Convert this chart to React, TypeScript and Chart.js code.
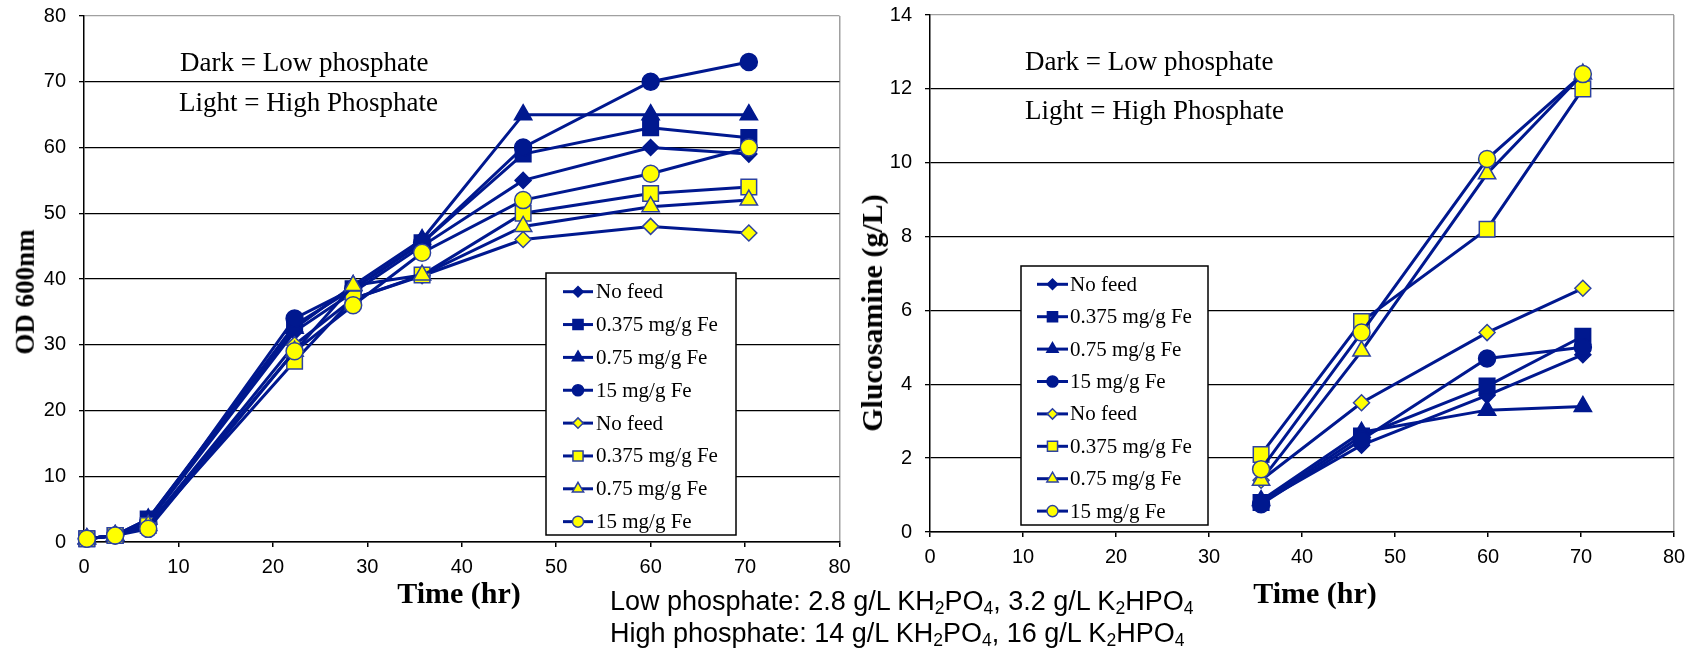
import React, { useEffect, useRef } from 'react';
import { Chart, registerables } from 'chart.js';
import { drawPoint } from 'chart.js/helpers';

Chart.register(...registerables);

// ---------- DATA ----------
const seriesLabels = [
  'No feed', '0.375 mg/g Fe', '0.75 mg/g Fe', '15 mg/g Fe',
  'No feed', '0.375 mg/g Fe', '0.75 mg/g Fe', '15 mg/g Fe',
];

// Left chart: OD 600nm vs time (hr)
const odTimes = [0.3, 3.3, 6.8, 22.3, 28.5, 35.8, 46.5, 60, 70.4];
const odDarkNoFeed = [0.5, 1, 3, 32, 38, 45, 55, 60, 59];
const odDark0375 = [0.5, 1, 3.5, 33, 38.5, 45.5, 59, 63, 61.5];
const odDark075 = [0.5, 1, 3.5, 32.5, 39, 46, 65, 65, 65];
const odDark15 = [0.5, 1, 3, 34, 38.5, 45.5, 60, 70, 73];
const odLightNoFeed = [0.5, 1, 2.5, 30, 37, 40.5, 46, 48, 47];
const odLight0375 = [0.5, 1, 2.5, 27.5, 37, 40.6, 50, 53, 54];
const odLight075 = [0.5, 1, 2.5, 29, 39, 40.6, 48, 51, 52];
const odLight15 = [0.5, 1, 2, 29, 36, 44, 52, 56, 60];

// Right chart: Glucosamine (g/L) vs time (hr)
const glcTimes = [35.6, 46.4, 59.9, 70.2];
const glcDarkNoFeed = [0.8, 2.35, 3.7, 4.8];
const glcDark0375 = [0.8, 2.6, 3.95, 5.3];
const glcDark075 = [0.85, 2.7, 3.3, 3.4];
const glcDark15 = [0.75, 2.5, 4.7, 5.0];
const glcLightNoFeed = [1.4, 3.5, 5.4, 6.6];
const glcLight0375 = [2.1, 5.7, 8.2, 12.0];
const glcLight075 = [1.4, 4.9, 9.7, 12.4];
const glcLight15 = [1.7, 5.4, 10.1, 12.4];

const xTickStep = 10;
const xMax = 80;
const odTickStep = 10;
const odMax = 80;
const glcTickStep = 2;
const glcMax = 14;

// ---------- STYLE ----------
const NAVY = '#00188f';
const YELLOW = '#ffff00';
const LIGHT_BORDER = '#2d42a0';
const pointStyles = ['rectRot', 'rect', 'triangle', 'circle'];
const pointRadii = [8, 11, 10, 8.5];

function buildDatasets(xs: number[], series: number[][]) {
  return series.map((vals, i) => {
    const dark = i < 4;
    const k = i % 4;
    return {
      label: seriesLabels[i],
      data: xs.map((x, j) => ({ x, y: vals[j] })),
      borderColor: NAVY,
      backgroundColor: dark ? NAVY : YELLOW,
      borderWidth: 3,
      pointStyle: pointStyles[k],
      pointRadius: pointRadii[k],
      pointBackgroundColor: dark ? NAVY : YELLOW,
      pointBorderColor: dark ? NAVY : LIGHT_BORDER,
      pointBorderWidth: 1.5,
      order: 7 - i,
      tension: 0,
      clip: false as any,
    };
  });
}

const insideLegend = {
  id: 'insideLegend',
  afterDraw(chart: any, _args: any, opts: any) {
    const { ctx } = chart;
    ctx.save();
    ctx.fillStyle = '#ffffff';
    ctx.fillRect(opts.x, opts.y, opts.w, opts.h);
    ctx.strokeStyle = '#000';
    ctx.lineWidth = 1.5;
    ctx.strokeRect(opts.x, opts.y, opts.w, opts.h);
    chart.data.datasets.forEach((ds: any, i: number) => {
      const cy = opts.firstY + i * opts.rowH;
      ctx.strokeStyle = ds.borderColor;
      ctx.lineWidth = 3;
      ctx.beginPath();
      ctx.moveTo(opts.lineX0, cy);
      ctx.lineTo(opts.lineX1, cy);
      ctx.stroke();
      ctx.fillStyle = ds.pointBackgroundColor;
      ctx.strokeStyle = ds.pointBorderColor;
      ctx.lineWidth = ds.pointBorderWidth;
      drawPoint(ctx, { pointStyle: ds.pointStyle, rotation: 0, radius: ds.pointRadius * 0.65, borderWidth: ds.pointBorderWidth }, (opts.lineX0 + opts.lineX1) / 2, cy);
      ctx.fillStyle = '#000';
      ctx.font = opts.font;
      ctx.textBaseline = 'middle';
      ctx.textAlign = 'left';
      ctx.fillText(ds.label, opts.textX, cy + 1);
    });
    ctx.restore();
  },
};

const tickFont = { family: '"Liberation Sans", Arial, sans-serif', size: 20 };

function makeOptions(cfg: {
  yMax: number; yStep: number; yWidth: number; xHeight: number;
  padRight: number; padTop: number; legend: any;
}) {
  return {
    responsive: false,
    animation: false as const,
    layout: { padding: { left: 0, right: cfg.padRight, top: cfg.padTop, bottom: 0 } },
    plugins: {
      legend: { display: false },
      tooltip: { enabled: false },
      insideLegend: cfg.legend,
    },
    scales: {
      x: {
        type: 'linear' as const,
        min: 0,
        max: xMax,
        ticks: { stepSize: xTickStep, font: tickFont, color: '#000', padding: 8, autoSkip: false },
        grid: {
          drawOnChartArea: true,
          color: (c: any) => (c.tick && c.tick.value === xMax ? '#a0a0a0' : 'rgba(0,0,0,0)'),
          tickColor: '#000',
          tickLength: 5,
          lineWidth: 1.5,
        },
        border: { display: true, color: '#000', width: 1.5 },
        afterFit: (s: any) => { s.height = cfg.xHeight; s.paddingLeft = 0; s.paddingRight = 0; },
      },
      y: {
        min: 0,
        max: cfg.yMax,
        ticks: { stepSize: cfg.yStep, font: tickFont, color: '#000', padding: 13 },
        grid: {
          color: (c: any) => (c.tick && c.tick.value === cfg.yMax ? '#a0a0a0' : '#000'),
          tickColor: '#000',
          tickLength: 5,
          lineWidth: 1.3,
        },
        border: { display: true, color: '#000', width: 1.5 },
        afterFit: (s: any) => { s.width = cfg.yWidth; s.paddingTop = 0; s.paddingBottom = 0; },
      },
    },
  };
}

const legendFont = '21px "Liberation Serif", "Times New Roman", serif';

export default function App() {
  const leftRef = useRef<HTMLCanvasElement>(null);
  const rightRef = useRef<HTMLCanvasElement>(null);

  useEffect(() => {
    const left = new Chart(leftRef.current!, {
      type: 'line',
      data: {
        datasets: buildDatasets(odTimes, [
          odDarkNoFeed, odDark0375, odDark075, odDark15,
          odLightNoFeed, odLight0375, odLight075, odLight15,
        ]) as any,
      },
      options: makeOptions({
        yMax: odMax, yStep: odTickStep, yWidth: 84, xHeight: 78, padRight: 12, padTop: 16,
        legend: { x: 546, y: 273, w: 190, h: 262, firstY: 291.7, rowH: 32.85, lineX0: 563, lineX1: 593, textX: 596, font: legendFont },
      }) as any,
      plugins: [insideLegend],
    });
    const right = new Chart(rightRef.current!, {
      type: 'line',
      data: {
        datasets: buildDatasets(glcTimes, [
          glcDarkNoFeed, glcDark0375, glcDark075, glcDark15,
          glcLightNoFeed, glcLight0375, glcLight075, glcLight15,
        ]) as any,
      },
      options: makeOptions({
        yMax: glcMax, yStep: glcTickStep, yWidth: 80, xHeight: 88, padRight: 19, padTop: 15,
        legend: { x: 171, y: 266, w: 187, h: 259, firstY: 284.3, rowH: 32.4, lineX0: 187, lineX1: 218, textX: 220, font: legendFont },
      }) as any,
      plugins: [insideLegend],
    });
    return () => { left.destroy(); right.destroy(); };
  }, []);

  const serif = '"Liberation Serif", "Times New Roman", serif';
  const note: React.CSSProperties = { position: 'absolute', fontFamily: serif, fontSize: 27, lineHeight: '27px', whiteSpace: 'nowrap', color: '#000' };
  const axisTitle: React.CSSProperties = {
    position: 'absolute', fontFamily: serif, fontWeight: 'bold', lineHeight: 1.2,
    whiteSpace: 'nowrap', color: '#000',
  };
  const yRot = 'translate(-50%, -50%) rotate(-90deg)';
  const xCenter = 'translate(-50%, -50%)';
  const sub: React.CSSProperties = { fontSize: '0.65em', verticalAlign: '-0.25em', lineHeight: 0 };

  return (
    <div style={{ position: 'absolute', left: 0, top: 0, width: 1693, height: 653, background: '#fff', overflow: 'hidden' }}>
      <canvas ref={leftRef} width={852} height={620} style={{ position: 'absolute', left: 0, top: 0, display: 'block' }} />
      <canvas ref={rightRef} width={843} height={620} style={{ position: 'absolute', left: 850, top: 0, display: 'block' }} />

      <div style={{ ...axisTitle, fontSize: 27, left: 25, top: 292, transform: yRot }}>OD 600nm</div>
      <div style={{ ...axisTitle, fontSize: 30, left: 872, top: 313, transform: yRot }}>Glucosamine (g/L)</div>
      <div style={{ ...axisTitle, fontSize: 30, left: 459, top: 593, transform: xCenter }}>Time (hr)</div>
      <div style={{ ...axisTitle, fontSize: 30, left: 1315, top: 593, transform: xCenter }}>Time (hr)</div>

      <div style={{ ...note, left: 180, top: 49 }}>Dark = Low phosphate</div>
      <div style={{ ...note, left: 179, top: 89 }}>Light = High Phosphate</div>
      <div style={{ ...note, left: 1025, top: 48 }}>Dark = Low phosphate</div>
      <div style={{ ...note, left: 1025, top: 97 }}>Light = High Phosphate</div>

      <div style={{ position: 'absolute', left: 610, top: 585, fontFamily: '"Liberation Sans", Arial, sans-serif', fontSize: 27, lineHeight: '32.4px', whiteSpace: 'nowrap', color: '#000' }}>
        <div>Low phosphate: 2.8 g/L KH<span style={sub}>2</span>PO<span style={sub}>4</span>, 3.2 g/L K<span style={sub}>2</span>HPO<span style={sub}>4</span></div>
        <div>High phosphate: 14 g/L KH<span style={sub}>2</span>PO<span style={sub}>4</span>, 16 g/L K<span style={sub}>2</span>HPO<span style={sub}>4</span></div>
      </div>
    </div>
  );
}
